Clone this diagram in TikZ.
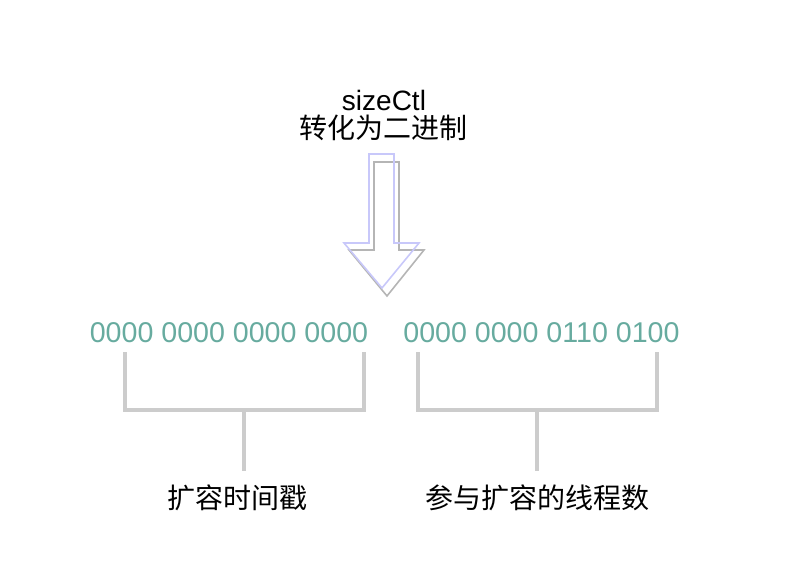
\documentclass[tikz,border=0pt]{standalone}
\usepackage{fontspec}
\setmainfont{Liberation Sans}
\newfontfamily\cjk{Noto Sans CJK SC}
\definecolor{digit}{HTML}{67AB9F}
\definecolor{brk}{HTML}{CCCCCC}
\definecolor{arrpurple}{HTML}{C8C8FA}
\definecolor{arrgray}{HTML}{B5B5B5}
\begin{document}
\begin{tikzpicture}[x=1pt,y=-1pt,
  bits/.style={font=\fontsize{28.6}{32}\selectfont, text=digit, inner sep=0pt, anchor=base},
  lbl/.style={font=\cjk\fontsize{28}{32}\selectfont, inner sep=0pt, anchor=base},
  bracket/.style={draw=brk, line width=4.5pt},
  arrowshape/.style={line width=1.6pt, line join=miter}]
\useasboundingbox (0,0) rectangle (792,578);
% title
\node[font=\fontsize{28}{32}\selectfont, inner sep=0pt, anchor=base] (t1) at (384,110) {sizeCtl};
\node[lbl] (t2) at (383,138.5) {转化为二进制};
% arrows
\draw[arrowshape, draw=arrgray] (374,162) -- (399,162) -- (399,250) -- (424,250) -- (387,296) -- (349,250) -- (374,250) -- cycle;
\draw[arrowshape, draw=arrpurple] (369,154) -- (394,154) -- (394,243) -- (419,243) -- (382,288) -- (344,243) -- (369,243) -- cycle;
% binary
\node[bits] (b1) at (229,342) {0000 0000 0000 0000};
\node[bits] (b2) at (541.5,342) {0000 0000 0110 0100};
% brackets
\coordinate (l1) at (125,352); \coordinate (l2) at (125,410);
\coordinate (l3) at (364,410); \coordinate (l4) at (364,352);
\coordinate (lm) at (244,410); \coordinate (ls) at (244,471);
\draw[bracket, line join=miter] (l1) -- (l2) -- (l3) -- (l4);
\draw[bracket] (lm) -- (ls);
\coordinate (r1) at (418,352); \coordinate (r2) at (418,410);
\coordinate (r3) at (657,410); \coordinate (r4) at (657,352);
\coordinate (rm) at (537,410); \coordinate (rs) at (537,471);
\draw[bracket, line join=miter] (r1) -- (r2) -- (r3) -- (r4);
\draw[bracket] (rm) -- (rs);
% labels
\node[lbl] (L1) at (237,508) {扩容时间戳};
\node[lbl] (L2) at (537.5,508) {参与扩容的线程数};
\end{tikzpicture}
\end{document}
